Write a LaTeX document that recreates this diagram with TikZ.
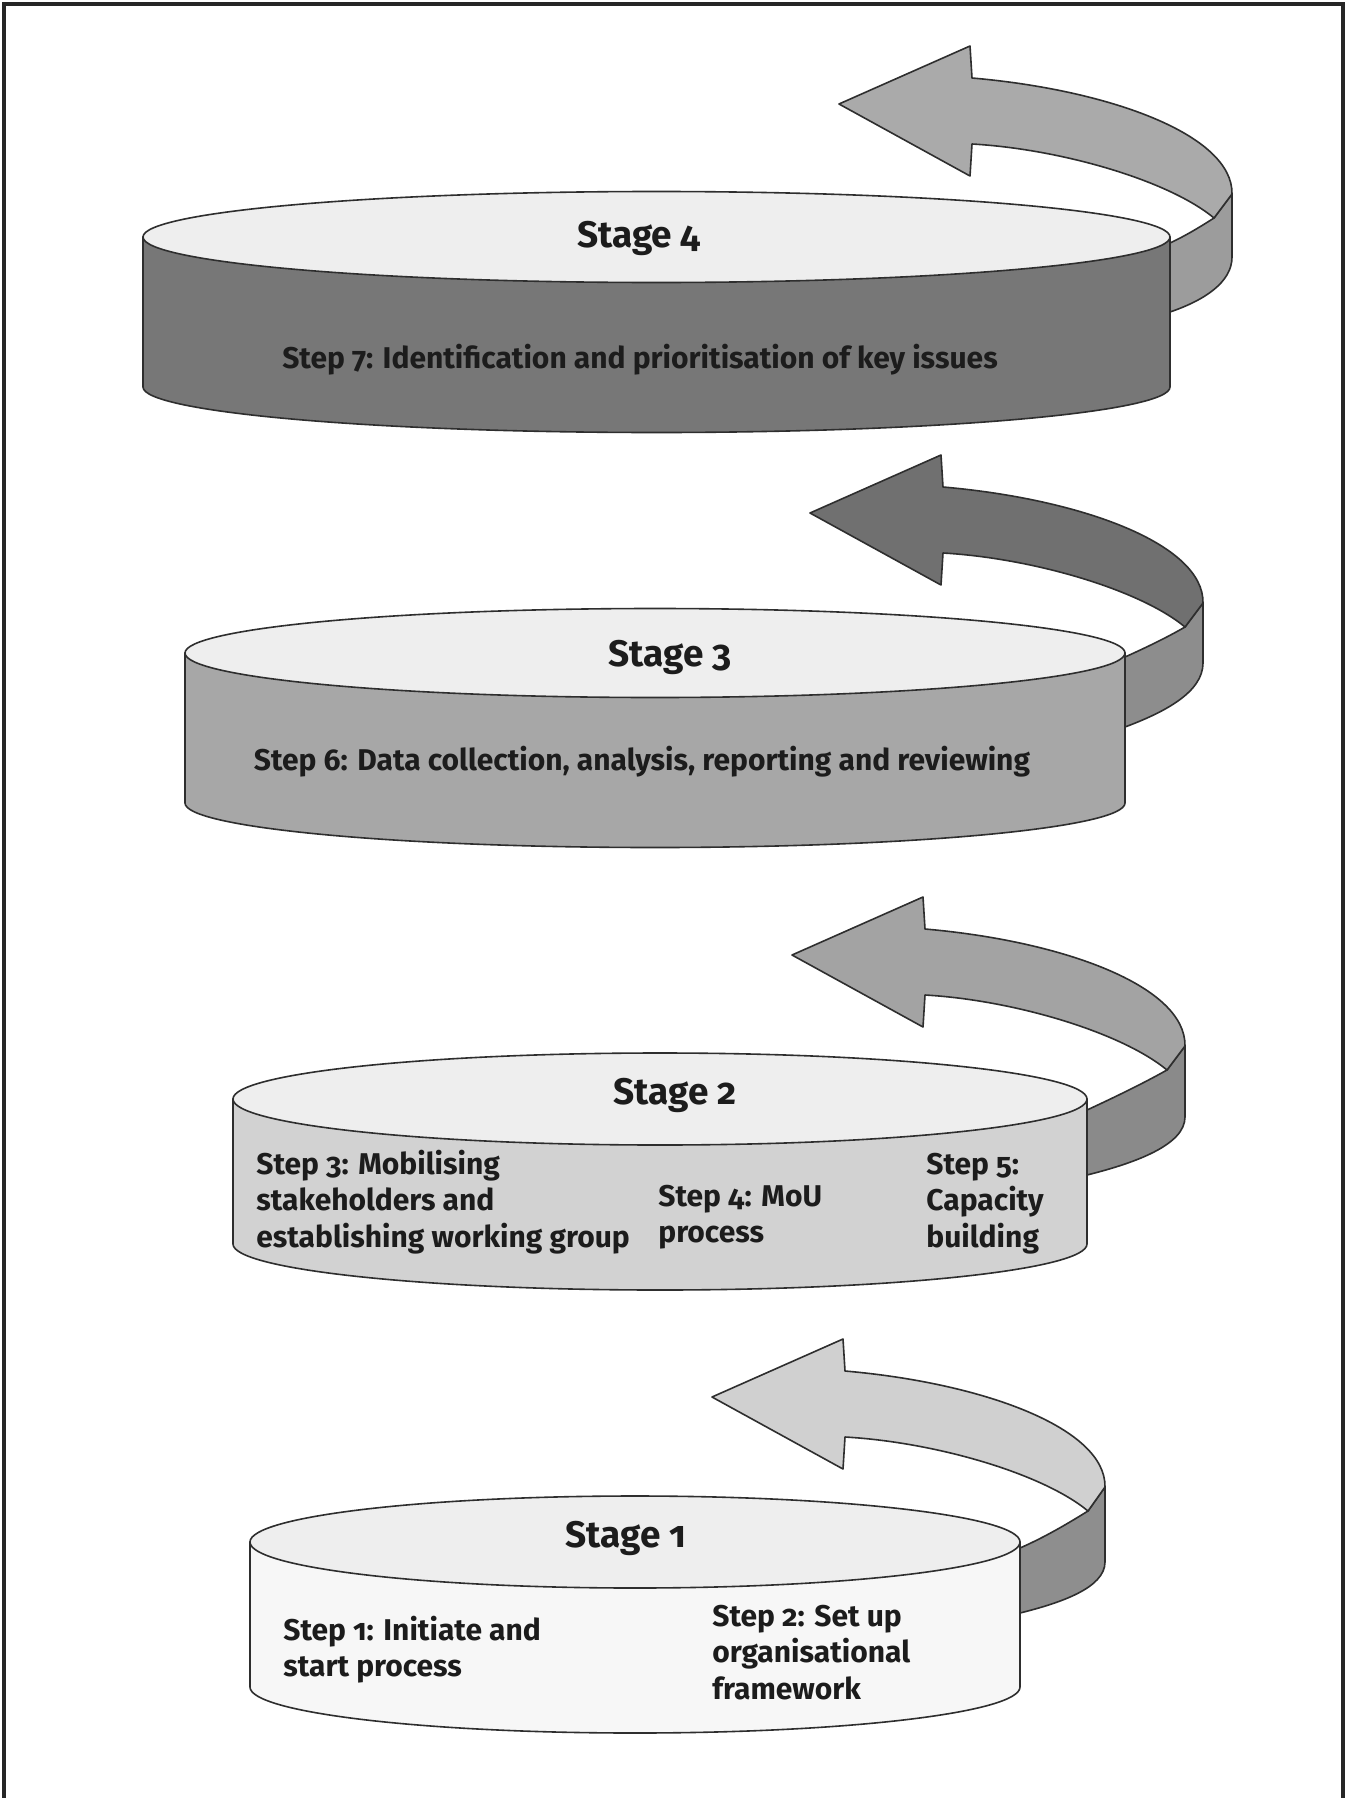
\documentclass[tikz,border=0pt]{standalone}
\usepackage{fontspec}
\setmainfont{Fira Sans}[Numbers=OldStyle]
\definecolor{edge}{HTML}{2E2E2E}
\definecolor{topc}{HTML}{EEEEEE}
\definecolor{sidefour}{HTML}{777777}
\definecolor{sidethree}{HTML}{A7A7A7}
\definecolor{sidetwo}{HTML}{D2D2D2}
\definecolor{sideone}{HTML}{F7F7F7}
\definecolor{afourfront}{HTML}{AAAAAA}
\definecolor{afourband}{HTML}{9C9C9C}
\definecolor{athreefront}{HTML}{707070}
\definecolor{athreeband}{HTML}{8D8D8D}
\definecolor{atwofront}{HTML}{A3A3A3}
\definecolor{atwoband}{HTML}{8A8A8A}
\definecolor{aonefront}{HTML}{D0D0D0}
\definecolor{aoneband}{HTML}{8E8E8E}
\definecolor{txt}{HTML}{1C1C1C}
\tikzset{
  shape edge/.style={draw=edge, line width=0.8pt, line join=round},
  stagetitle/.style={font=\fontsize{18.5}{22}\selectfont\bfseries, text=txt, inner sep=0pt, anchor=base},
  steptext/.style={font=\fontsize{15}{18.4}\selectfont\bfseries, text=txt, inner sep=0pt, anchor=base west},
}
% cylinder: #1 cx, #2 cy, #3 rx, #4 ry, #5 height, #6 side colour
\newcommand{\stagecyl}[6]{%
  \path[shape edge, fill=#6]
    ({#1-#3},{#2}) -- ({#1-#3},{#2+#5})
    .. controls ({#1-#3},{#2+#5+0.5523*#4}) and ({#1-0.5523*#3},{#2+#5+#4}) .. ({#1},{#2+#5+#4})
    .. controls ({#1+0.5523*#3},{#2+#5+#4}) and ({#1+#3},{#2+#5+0.5523*#4}) .. ({#1+#3},{#2+#5})
    -- ({#1+#3},{#2}) -- cycle;
  \path[shape edge, fill=topc]
    ({#1+#3},{#2})
    .. controls ({#1+#3},{#2-0.5523*#4}) and ({#1+0.5523*#3},{#2-#4}) .. ({#1},{#2-#4})
    .. controls ({#1-0.5523*#3},{#2-#4}) and ({#1-#3},{#2-0.5523*#4}) .. ({#1-#3},{#2})
    .. controls ({#1-#3},{#2+0.5523*#4}) and ({#1-0.5523*#3},{#2+#4}) .. ({#1},{#2+#4})
    .. controls ({#1+0.5523*#3},{#2+#4}) and ({#1+#3},{#2+0.5523*#4}) .. cycle;
}
\begin{document}
\begin{tikzpicture}[x=0.5pt, y=-0.5pt]
\useasboundingbox (0,0) rectangle (1350,1798);
\fill[white] (0,0) rectangle (1350,1798);
% frame
\draw[line width=1.6pt, draw=black!85] (4,1798) -- (4,4) -- (1343,4) -- (1343,1798);

% ---------------- Stage 4 ----------------
\path[shape edge, fill=afourband] (1214,218) -- (1232,194) -- (1232,257)
  .. controls (1232,282) and (1205,300) .. (1170,312) -- (1170,243)
  .. controls (1185,236) and (1200,227) .. (1214,218) -- cycle;
\stagecyl{656.5}{237}{513.5}{45.5}{150}{sidefour}
\path[shape edge, fill=afourfront] (972,78)
  .. controls (1110,90) and (1233,135) .. (1232,194) -- (1214,218)
  .. controls (1168,180) and (1060,149) .. (972,144)
  -- (970,176) -- (839,104) -- (970,46) -- cycle;
\node[stagetitle] (stagefour) at (639,247) {Stage 4};
\node[stagetitle, font=\fontsize{15}{18.4}\selectfont\bfseries] (stepseven) at (640,368) {Step 7: Identification and prioritisation of key issues};

% ---------------- Stage 3 ----------------
\path[shape edge, fill=athreeband] (1185,627) -- (1203,603) -- (1203,663)
  .. controls (1203,692) and (1165,712) .. (1125,727) -- (1125,657)
  .. controls (1145,648) and (1166,638) .. (1185,627) -- cycle;
\stagecyl{655}{653}{470}{44.5}{150}{sidethree}
\path[shape edge, fill=athreefront] (943,487)
  .. controls (1081,499) and (1204,544) .. (1203,603) -- (1185,627)
  .. controls (1139,589) and (1031,558) .. (943,553)
  -- (941,585) -- (810,513) -- (941,455) -- cycle;
\node[stagetitle] (stagethree) at (670,666) {Stage 3};
\node[stagetitle, font=\fontsize{15}{18.4}\selectfont\bfseries] (stepsix) at (642,770) {Step 6: Data collection, analysis, reporting and reviewing};

% ---------------- Stage 2 ----------------
\path[shape edge, fill=atwoband] (1167,1070) -- (1185,1046) -- (1185,1117)
  .. controls (1185,1145) and (1135,1163) .. (1087,1175) -- (1087,1110)
  .. controls (1115,1097) and (1142,1084) .. (1167,1070) -- cycle;
\stagecyl{660}{1099}{427}{46}{145}{sidetwo}
\path[shape edge, fill=atwofront] (925,929)
  .. controls (1063,941) and (1186,986) .. (1185,1046) -- (1167,1070)
  .. controls (1121,1032) and (1013,1000) .. (925,995)
  -- (923,1027) -- (792,955) -- (923,897) -- cycle;
\node[stagetitle] (stagetwo) at (675,1104) {Stage 2};
\node[steptext] (stepthree) at (256,1174) {\begin{tabular}[t]{@{}l@{}}Step 3: Mobilising\\stakeholders and\\establishing working group\end{tabular}};
\node[steptext] (stepfour) at (658,1206) {\begin{tabular}[t]{@{}l@{}}Step 4: MoU\\process\end{tabular}};
\node[steptext] (stepfive) at (926,1174) {\begin{tabular}[t]{@{}l@{}}Step 5:\\Capacity\\building\end{tabular}};

% ---------------- Stage 1 ----------------
\path[shape edge, fill=aoneband] (1088,1511) -- (1105,1487) -- (1105,1562)
  .. controls (1105,1588) and (1060,1603) .. (1020,1613) -- (1020,1548)
  .. controls (1045,1537) and (1067,1524) .. (1088,1511) -- cycle;
\stagecyl{635}{1542}{385}{46}{145}{sideone}
\path[shape edge, fill=aonefront] (845,1371)
  .. controls (983,1383) and (1106,1428) .. (1105,1487) -- (1088,1511)
  .. controls (1042,1473) and (934,1442) .. (845,1437)
  -- (843,1469) -- (712,1397) -- (843,1339) -- cycle;
\node[stagetitle] (stageone) at (626,1547) {Stage 1};
\node[steptext] (stepone) at (283,1640) {\begin{tabular}[t]{@{}l@{}}Step 1: Initiate and\\start process\end{tabular}};
\node[steptext] (steptwo) at (712,1626) {\begin{tabular}[t]{@{}l@{}}Step 2: Set up\\organisational\\framework\end{tabular}};
\end{tikzpicture}
\end{document}
